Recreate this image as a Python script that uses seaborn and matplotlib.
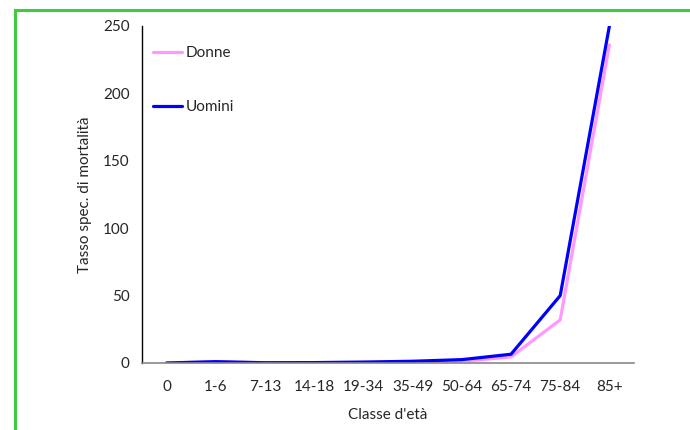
import pandas as pd
import matplotlib.pyplot as plt
import seaborn as sns
from matplotlib.patches import Rectangle

# dati
classi = ["0", "1-6", "7-13", "14-18", "19-34", "35-49", "50-64", "65-74", "75-84", "85+"]
donne = [0.0, 0.8, 0.1, 0.1, 0.3, 0.6, 1.2, 4.5, 32, 236]
uomini = [0.0, 1.0, 0.2, 0.3, 0.7, 1.3, 2.5, 6.5, 50, 250]

df = pd.DataFrame({
    "pos": list(range(len(classi))) * 2,
    "valore": donne + uomini,
    "sesso": ["Donne"] * len(classi) + ["Uomini"] * len(classi),
})

sns.set_style("white")
plt.rcParams['font.family'] = ['Lato', 'DejaVu Sans']

fig = plt.figure(figsize=(6.9, 4.3), dpi=100)
ax = fig.add_axes([142 / 690, 1 - 363 / 430, (634 - 142) / 690, (363 - 26) / 430])

sns.lineplot(data=df, x="pos", y="valore", hue="sesso",
             palette={"Donne": "#ff99ff", "Uomini": "#0000ff"},
             linewidth=2.3, ax=ax, legend=False)

ax.set_xlim(-0.5, len(classi) - 0.5)
ax.set_ylim(0, 250)
ax.set_yticks([0, 50, 100, 150, 200, 250])

# etichette al centro, tacche sui bordi delle classi
ax.set_xticks(range(len(classi)))
ax.set_xticklabels(classi)
ax.set_xticks([i - 0.5 for i in range(len(classi) + 1)], minor=True)
ax.tick_params(axis='x', which='major', length=0, pad=12, labelsize=11)
ax.tick_params(axis='x', which='minor', length=5, color='#888888', width=1, direction='out')
ax.tick_params(axis='y', length=5, color='black', width=1, direction='out', labelsize=11, pad=4)

for s in ["top", "right"]:
    ax.spines[s].set_visible(False)
ax.spines["left"].set_color("black")
ax.spines["left"].set_linewidth(1)
ax.spines["bottom"].set_color("#888888")
ax.spines["bottom"].set_linewidth(1.2)

ax.set_xlabel("Classe d'età", fontsize=11, labelpad=10)
ax.set_ylabel("Tasso spec. di mortalità", fontsize=11, labelpad=8)

# legenda
h1, = ax.plot([], [], color="#ff99ff", linewidth=2.3)
h2, = ax.plot([], [], color="#0000ff", linewidth=2.3)
ax.legend([h1, h2], ["Donne", "Uomini"], loc="upper left", bbox_to_anchor=(-0.005, 0.98),
          frameon=False, handlelength=1.9, handletextpad=0.2, labelspacing=2.6, fontsize=11)

# cornice verde
fig.patches.append(Rectangle((15 / 690, -0.2), 1.0, 1.2 - 10 / 430, transform=fig.transFigure,
                             fill=False, edgecolor="#3ecc3e", linewidth=2.2, clip_on=False))

fig.savefig("out.png", dpi=100)
